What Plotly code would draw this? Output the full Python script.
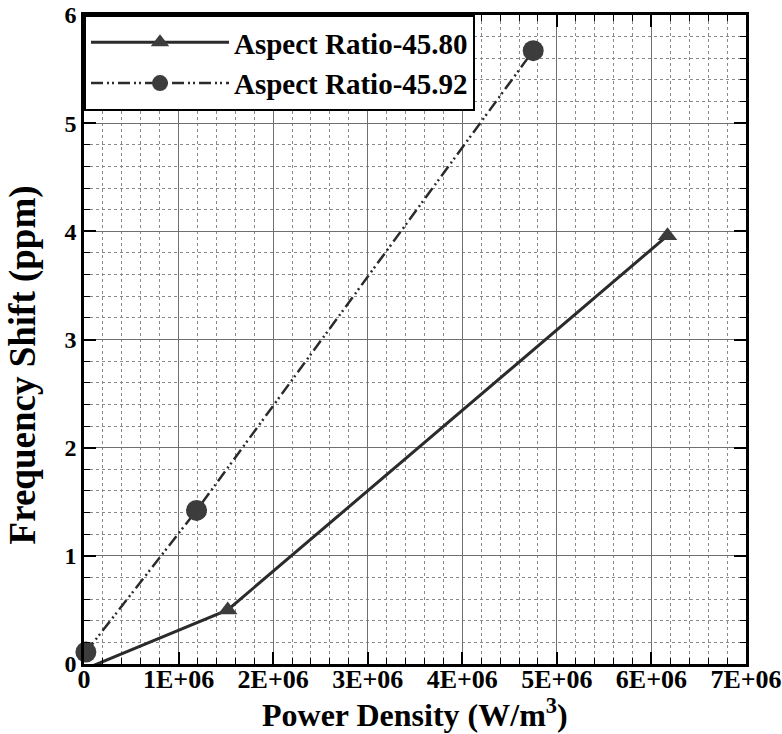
import plotly.graph_objects as go

# Data
ar4580_x = [0.0, 1.52e6, 6.17e6]
ar4580_y = [-0.05, 0.50, 3.96]
ar4592_x = [0.02e6, 1.19e6, 4.75e6]
ar4592_y = [0.11, 1.42, 5.67]

x_ticks = [0, 1e6, 2e6, 3e6, 4e6, 5e6, 6e6, 7e6]
x_ticklabels = ["0", "1E+06", "2E+06", "3E+06", "4E+06", "5E+06", "6E+06", "7E+06"]
y_ticks = [0, 1, 2, 3, 4, 5, 6]

x_title = "<b>Power Density (W/m<sup>3</sup>)</b>"
y_title = "<b>Frequency Shift (ppm)</b>"

FONT = "Liberation Serif"
LINE = "#2b2b2b"
MARK = "#3c3c3c"

fig = go.Figure()
fig.add_trace(go.Scatter(
    x=ar4580_x, y=ar4580_y, mode="lines+markers",
    name="<b>Aspect Ratio-45.80</b>",
    line=dict(color=LINE, width=3),
    marker=dict(symbol="triangle-up", size=17, color=MARK),
    cliponaxis=False,
))
fig.add_trace(go.Scatter(
    x=ar4592_x, y=ar4592_y, mode="lines+markers",
    name="<b>Aspect Ratio-45.92</b>",
    line=dict(color=LINE, width=2.5, dash="12px,4px,2px,3px,2px,4px"),
    marker=dict(symbol="circle", size=21, color=MARK),
    cliponaxis=False,
))

axis_common = dict(
    showline=True, linecolor="black", linewidth=2.5, mirror="ticks",
    ticks="inside", ticklen=12, tickwidth=2, tickcolor="black",
    showgrid=True, gridcolor="#707070", gridwidth=1.2,
    zeroline=False, automargin=False, ticklabeloverflow="allow",
)

fig.update_xaxes(
    **axis_common,
    range=[0, 7e6], tickvals=x_ticks, ticktext=x_ticklabels,
    ticklabelstandoff=-10,
    tickfont=dict(family=FONT, size=26, color="black", weight="bold"),
    minor=dict(dtick=0.2e6, tick0=0, ticks="inside", ticklen=6, tickcolor="black",
               tickwidth=1, showgrid=True, griddash="dot", gridcolor="#8a8a8a", gridwidth=1),
)
fig.update_yaxes(
    **axis_common,
    range=[0, 6], tickvals=y_ticks,
    tickfont=dict(family=FONT, size=24, color="black", weight="bold"),
    minor=dict(dtick=0.2, tick0=0, ticks="inside", ticklen=6, tickcolor="black",
               tickwidth=1, showgrid=True, griddash="dot", gridcolor="#8a8a8a", gridwidth=1),
)

fig.add_annotation(
    text=x_title, xref="paper", yref="paper", x=0.5, y=0,
    xanchor="center", yanchor="top", yshift=-27, showarrow=False,
    font=dict(family=FONT, size=32, color="black"),
)
fig.add_annotation(
    text=y_title, xref="paper", yref="paper", x=0, y=0.46,
    xanchor="right", yanchor="middle", xshift=-38, textangle=-90, showarrow=False,
    font=dict(family=FONT, size=37, color="black"),
)

fig.update_layout(
    width=782, height=734,
    margin=dict(l=84, r=36, t=15, b=70),
    paper_bgcolor="white", plot_bgcolor="white",
    showlegend=True,
    legend=dict(
        x=0, y=1, xanchor="left", yanchor="top",
        bgcolor="white", bordercolor="black", borderwidth=2,
        font=dict(family=FONT, size=29, color="black"),
        itemwidth=138, tracegroupgap=0,
    ),
)

fig.write_html("out.html")
